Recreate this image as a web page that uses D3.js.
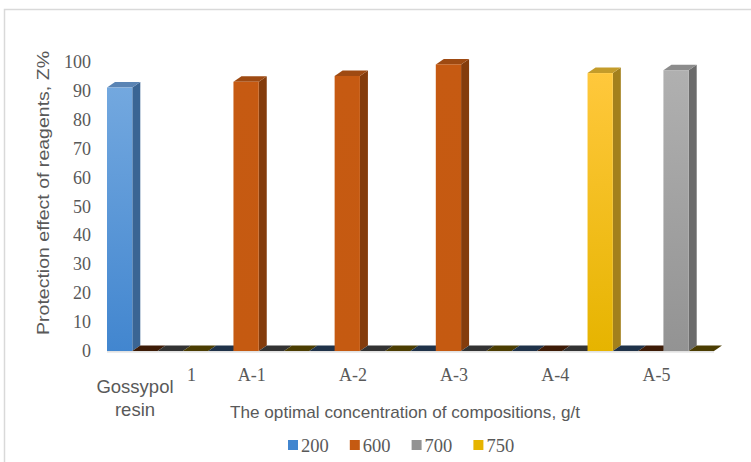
<!DOCTYPE html>
<html>
<head>
<meta charset="utf-8">
<script src="https://cdn.jsdelivr.net/npm/d3@7"></script>
<style>
  html, body { margin: 0; padding: 0; background: #fff; }
  svg { display: block; }
</style>
</head>
<body>
<svg id="chart" width="751" height="462"></svg>
<script>
// Category labels along the horizontal axis
const categories = ["1", "A-1", "A-2", "A-3", "A-4", "A-5"];
const firstCategoryNote = "Gossypol resin";
// Concentration series (g/t)
const seriesNames = ["200", "600", "700", "750"];
// Protection effect, %, per category for each series
const values200 = [91, 0, 0, 0, 0, 0];
const values600 = [0, 93, 95, 99, 0, 0];
const values700 = [0, 0, 0, 0, 0, 97];
const values750 = [0, 0, 0, 0, 96, 0];
const yTicks = [0, 10, 20, 30, 40, 50, 60, 70, 80, 90, 100];

const seriesValues = [values200, values600, values700, values750];

// Face colours: front gradient (top, bottom), side, top, and the floor strip for zero values
const palette = {
  "200": { front: ["#73a8df", "#4286cf"], side: "#3a6594", top: "#5a84b4", floor: "#1f3249" },
  "600": { front: ["#c65a12", "#c55a11"], side: "#843c0c", top: "#9e4a12", floor: "#3d1b06" },
  "700": { front: ["#b0b0b0", "#939393"], side: "#6b6b6b", top: "#8c8c8c", floor: "#333333" },
  "750": { front: ["#ffc83c", "#e6b400"], side: "#a3801c", top: "#c49c2a", floor: "#4b3d02" }
};

const svg = d3.select("#chart");
const textColor = "#595959";
const sans = "'Liberation Sans', Arial, sans-serif";
const serif = "'Liberation Serif', 'Times New Roman', serif";

// Chart frame
svg.append("rect")
  .attr("x", 4.5).attr("y", 9.5).attr("width", 760).attr("height", 470)
  .attr("fill", "none").attr("stroke", "#d9d9d9").attr("stroke-width", 1.5);

const x = d3.scaleBand().domain(categories).range([107, 714]).padding(0);
const xs = d3.scaleBand().domain(seriesNames).range([0, x.bandwidth()]).padding(0);
const y = d3.scaleLinear().domain([0, 100]).range([351, 61.5]);

// Oblique depth offset
const dx = 8, dy = 5.5;

const defs = svg.append("defs");
seriesNames.forEach(s => {
  const g = defs.append("linearGradient")
    .attr("id", "grad" + s).attr("x1", 0).attr("y1", 0).attr("x2", 0).attr("y2", 1);
  g.append("stop").attr("offset", "0%").attr("stop-color", palette[s].front[0]);
  g.append("stop").attr("offset", "100%").attr("stop-color", palette[s].front[1]);
});

// Flatten into drawable bars, left to right
const bars = [];
categories.forEach((c, ci) => {
  seriesNames.forEach((s, si) => {
    bars.push({ cat: c, series: s, value: seriesValues[si][ci] });
  });
});

// Floor edge line
svg.append("line")
  .attr("x1", x.range()[0]).attr("x2", x.range()[1])
  .attr("y1", y(0) + 0.8).attr("y2", y(0) + 0.8)
  .attr("stroke", "#d9d9d9").attr("stroke-width", 1.2);

const barLayer = svg.append("g");
bars.forEach(b => {
  const x0 = x(b.cat) + xs(b.series);
  const x1 = x0 + xs.bandwidth();
  const yb = y(0);
  const yt = y(b.value);
  const col = palette[b.series];
  const g = barLayer.append("g");
  if (b.value <= 0) {
    g.append("path")
      .attr("d", `M${x0},${yb}L${x0 + dx},${yb - dy}L${x1 + dx},${yb - dy}L${x1},${yb}Z`)
      .attr("fill", col.floor);
    return;
  }
  // right side
  g.append("path")
    .attr("d", `M${x1},${yt}L${x1 + dx},${yt - dy}L${x1 + dx},${yb - dy}L${x1},${yb}Z`)
    .attr("fill", col.side);
  // top
  g.append("path")
    .attr("d", `M${x0},${yt}L${x0 + dx},${yt - dy}L${x1 + dx},${yt - dy}L${x1},${yt}Z`)
    .attr("fill", col.top);
  // front
  g.append("rect")
    .attr("x", x0).attr("y", yt).attr("width", x1 - x0).attr("height", yb - yt)
    .attr("fill", `url(#grad${b.series})`);
});

// Value axis labels
const yAxis = svg.append("g")
  .attr("transform", "translate(91,0)")
  .call(d3.axisLeft(y).tickValues(yTicks).tickSize(0).tickPadding(0).tickFormat(d3.format("d")));
yAxis.select(".domain").remove();
yAxis.selectAll("text")
  .attr("fill", textColor)
  .style("font-family", serif)
  .style("font-size", "18px");

// Category labels
const catLabels = svg.append("g")
  .style("font-family", serif)
  .style("font-size", "18px")
  .attr("fill", textColor);
categories.forEach((c, i) => {
  const cx = x(c) + x.bandwidth() / 2 + (i === 0 ? 34 : -7);
  catLabels.append("text")
    .attr("x", cx).attr("y", 381)
    .attr("text-anchor", "middle")
    .text(c);
});

// Note under the first category
const note = svg.append("text")
  .attr("x", 135).attr("y", 393)
  .attr("text-anchor", "middle")
  .attr("fill", textColor)
  .style("font-family", sans)
  .style("font-size", "18.5px");
firstCategoryNote.split(" ").forEach((w, i) => {
  note.append("tspan").attr("x", 135).attr("dy", i === 0 ? 0 : 23).text(w);
});

// Axis titles
svg.append("text")
  .attr("x", 405).attr("y", 418)
  .attr("text-anchor", "middle")
  .attr("fill", textColor)
  .attr("textLength", 350)
  .attr("lengthAdjust", "spacingAndGlyphs")
  .style("font-family", sans)
  .style("font-size", "17px")
  .text("The optimal concentration of compositions, g/t");

svg.append("text")
  .attr("transform", "translate(49,193) rotate(-90)")
  .attr("text-anchor", "middle")
  .attr("fill", textColor)
  .attr("textLength", 284)
  .attr("lengthAdjust", "spacingAndGlyphs")
  .style("font-family", sans)
  .style("font-size", "17px")
  .text("Protection effect of reagents, Z%");

// Legend
const legend = svg.append("g").attr("transform", "translate(288,445)");
seriesNames.forEach((s, i) => {
  const item = legend.append("g").attr("transform", `translate(${i * 61.8},0)`);
  item.append("rect")
    .attr("x", 0).attr("y", -5).attr("width", 10).attr("height", 10)
    .attr("fill", palette[s].front[1]);
  item.append("text")
    .attr("x", 13).attr("y", 6.5)
    .attr("fill", textColor)
    .style("font-family", serif)
    .style("font-size", "18.5px")
    .text(s);
});
</script>
</body>
</html>
